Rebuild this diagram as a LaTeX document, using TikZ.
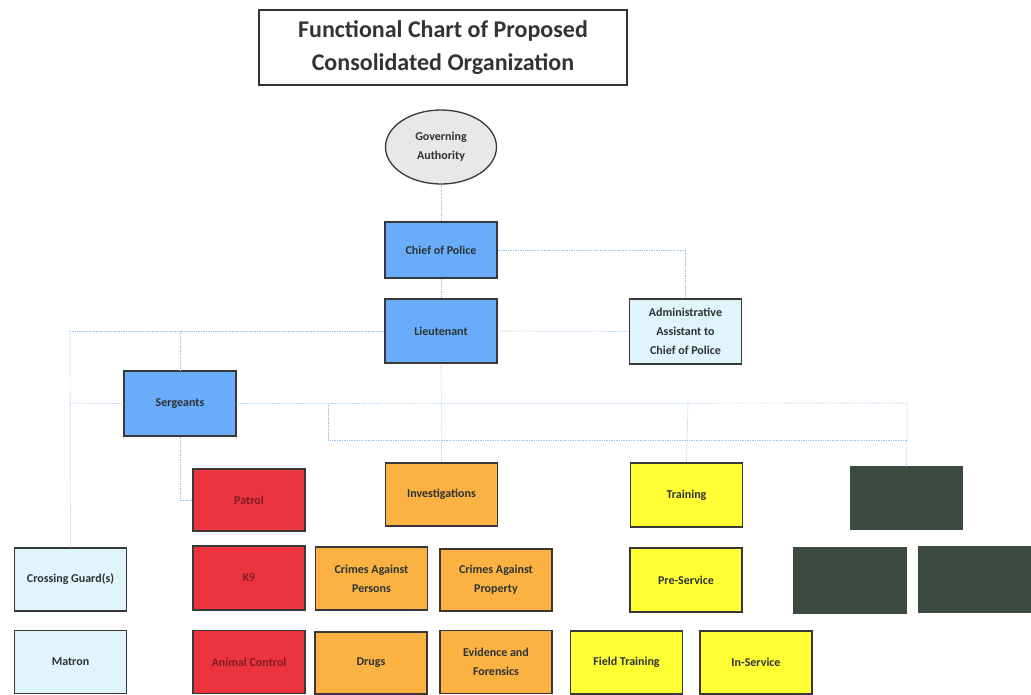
\documentclass[tikz,border=0pt]{standalone}
\usepackage{fontspec}
\setmainfont{Carlito}
\usepackage{xcolor}
\usepackage{tikz}
\usetikzlibrary{shapes.geometric}

\definecolor{boxblue}{RGB}{104,172,250}
\definecolor{paleblue}{RGB}{224,244,252}
\definecolor{boxred}{RGB}{236,52,62}
\definecolor{boxorange}{RGB}{251,178,66}
\definecolor{boxyellow}{RGB}{255,255,52}
\definecolor{boxdark}{RGB}{61,74,64}
\definecolor{boxgray}{RGB}{232,232,232}
\definecolor{txtdark}{RGB}{45,50,50}
\definecolor{txtred}{RGB}{130,28,36}
\definecolor{linkblue}{RGB}{150,196,238}

\begin{document}
\begin{tikzpicture}[x=1pt,y=-1pt,
	unit/.style={draw=black!78,line width=1.3pt,minimum width=112pt,minimum height=63pt,
		align=center,font=\fontsize{12}{19}\selectfont\bfseries,text=txtdark,inner sep=1pt},
	link/.style={linkblue,densely dotted,line width=0.7pt}]
				\useasboundingbox (0,0) rectangle (1031,694);
				
				% title
				\node[draw=black!80,line width=1.2pt,minimum width=368pt,minimum height=75pt,
					align=center,font=\fontsize{24}{33}\selectfont\bfseries,text=black!80]
					(title) at (443,47.5) {Functional Chart of Proposed\\Consolidated Organization};
				
				% command
				\node[unit,ellipse,fill=boxgray,minimum width=111pt,minimum height=74pt] (gov) at (441,147) {Governing\\Authority};
				\node[unit,fill=boxblue,minimum height=56pt] (chief) at (441,250) {Chief of Police};
				\node[unit,fill=boxblue,minimum height=64pt] (lieut) at (441,331) {Lieutenant};
				\node[unit,fill=paleblue,minimum height=65pt] (admin) at (685.5,331.5) {Administrative\\Assistant to\\Chief of Police};
				\node[unit,fill=boxblue,minimum height=65pt] (serg) at (180,403.5) {Sergeants};
				
				% divisions
				\node[unit,fill=boxred,text=txtred,minimum height=62pt] (patrol) at (249,500) {Patrol};
				\node[unit,fill=boxorange] (invest) at (441.5,494.5) {Investigations};
				\node[unit,fill=boxyellow,minimum height=64pt] (training) at (686.5,495) {Training};
				\node[unit,fill=boxdark,draw=boxdark,minimum height=62pt] (darkA) at (906.5,498) {};
				
				% second row
				\node[unit,fill=paleblue] (guard) at (70.5,579.5) {Crossing Guard(s)};
				\node[unit,fill=boxred,text=txtred,minimum height=64pt] (kn) at (249,578) {K9};
				\node[unit,fill=boxorange] (persons) at (371.5,578.5) {Crimes Against\\Persons};
				\node[unit,fill=boxorange,minimum height=62pt] (property) at (496,580) {Crimes Against\\Property};
				\node[unit,fill=boxyellow,minimum height=64pt] (preserv) at (686,580) {Pre-Service};
				\node[unit,fill=boxdark,draw=boxdark,minimum height=65pt] (darkB) at (850,580.5) {};
				\node[unit,fill=boxdark,draw=boxdark,minimum height=65pt] (darkC) at (975,579.5) {};
				
				% third row
				\node[unit,fill=paleblue] (matron) at (70.5,662) {Matron};
				\node[unit,fill=boxred,text=txtred] (animal) at (249,662) {Animal Control};
				\node[unit,fill=boxorange,minimum height=62pt] (drugs) at (371,663) {Drugs};
				\node[unit,fill=boxorange] (forensics) at (496,662) {Evidence and\\Forensics};
				\node[unit,fill=boxyellow] (field) at (626.5,662.5) {Field Training};
				\node[unit,fill=boxyellow] (inserv) at (756,662.5) {In-Service};
				
				% junctions
				\foreach \n/\x/\y in
				{LA/70/331, LB/180/331, SA/70/403, RA/907/403, BA/328/403, BB/328/440, RB/907/440, TA/688/403, PA/180/500}{
					\coordinate(\n) at (\x,\y);
				}
				
				\draw[link] (gov) -- (chief);
				\draw[link] (chief) -- (lieut);
				\draw[link] (chief.east) -| (admin.north);
				\draw[link] (LA) -- (lieut.west);
				\draw[link] (lieut.east) -- (admin.west);
				\draw[link] (LA) -- (guard.north);
				\draw[link] (LB) -- (serg.north);
				\draw[link] (SA) -- (serg.west);
				\draw[link] (serg.east) -- (RA);
				\draw[link] (BA) -- (BB) -- (RB);
				\draw[link] (RA) -- (RB) -- (darkA.north);
				\draw[link] (lieut.south) -- (invest.north);
				\draw[link] (TA) -- (training.north);
				\draw[link] (serg.south) -- (PA) -- (patrol.west);
			\end{tikzpicture}
\end{document}
